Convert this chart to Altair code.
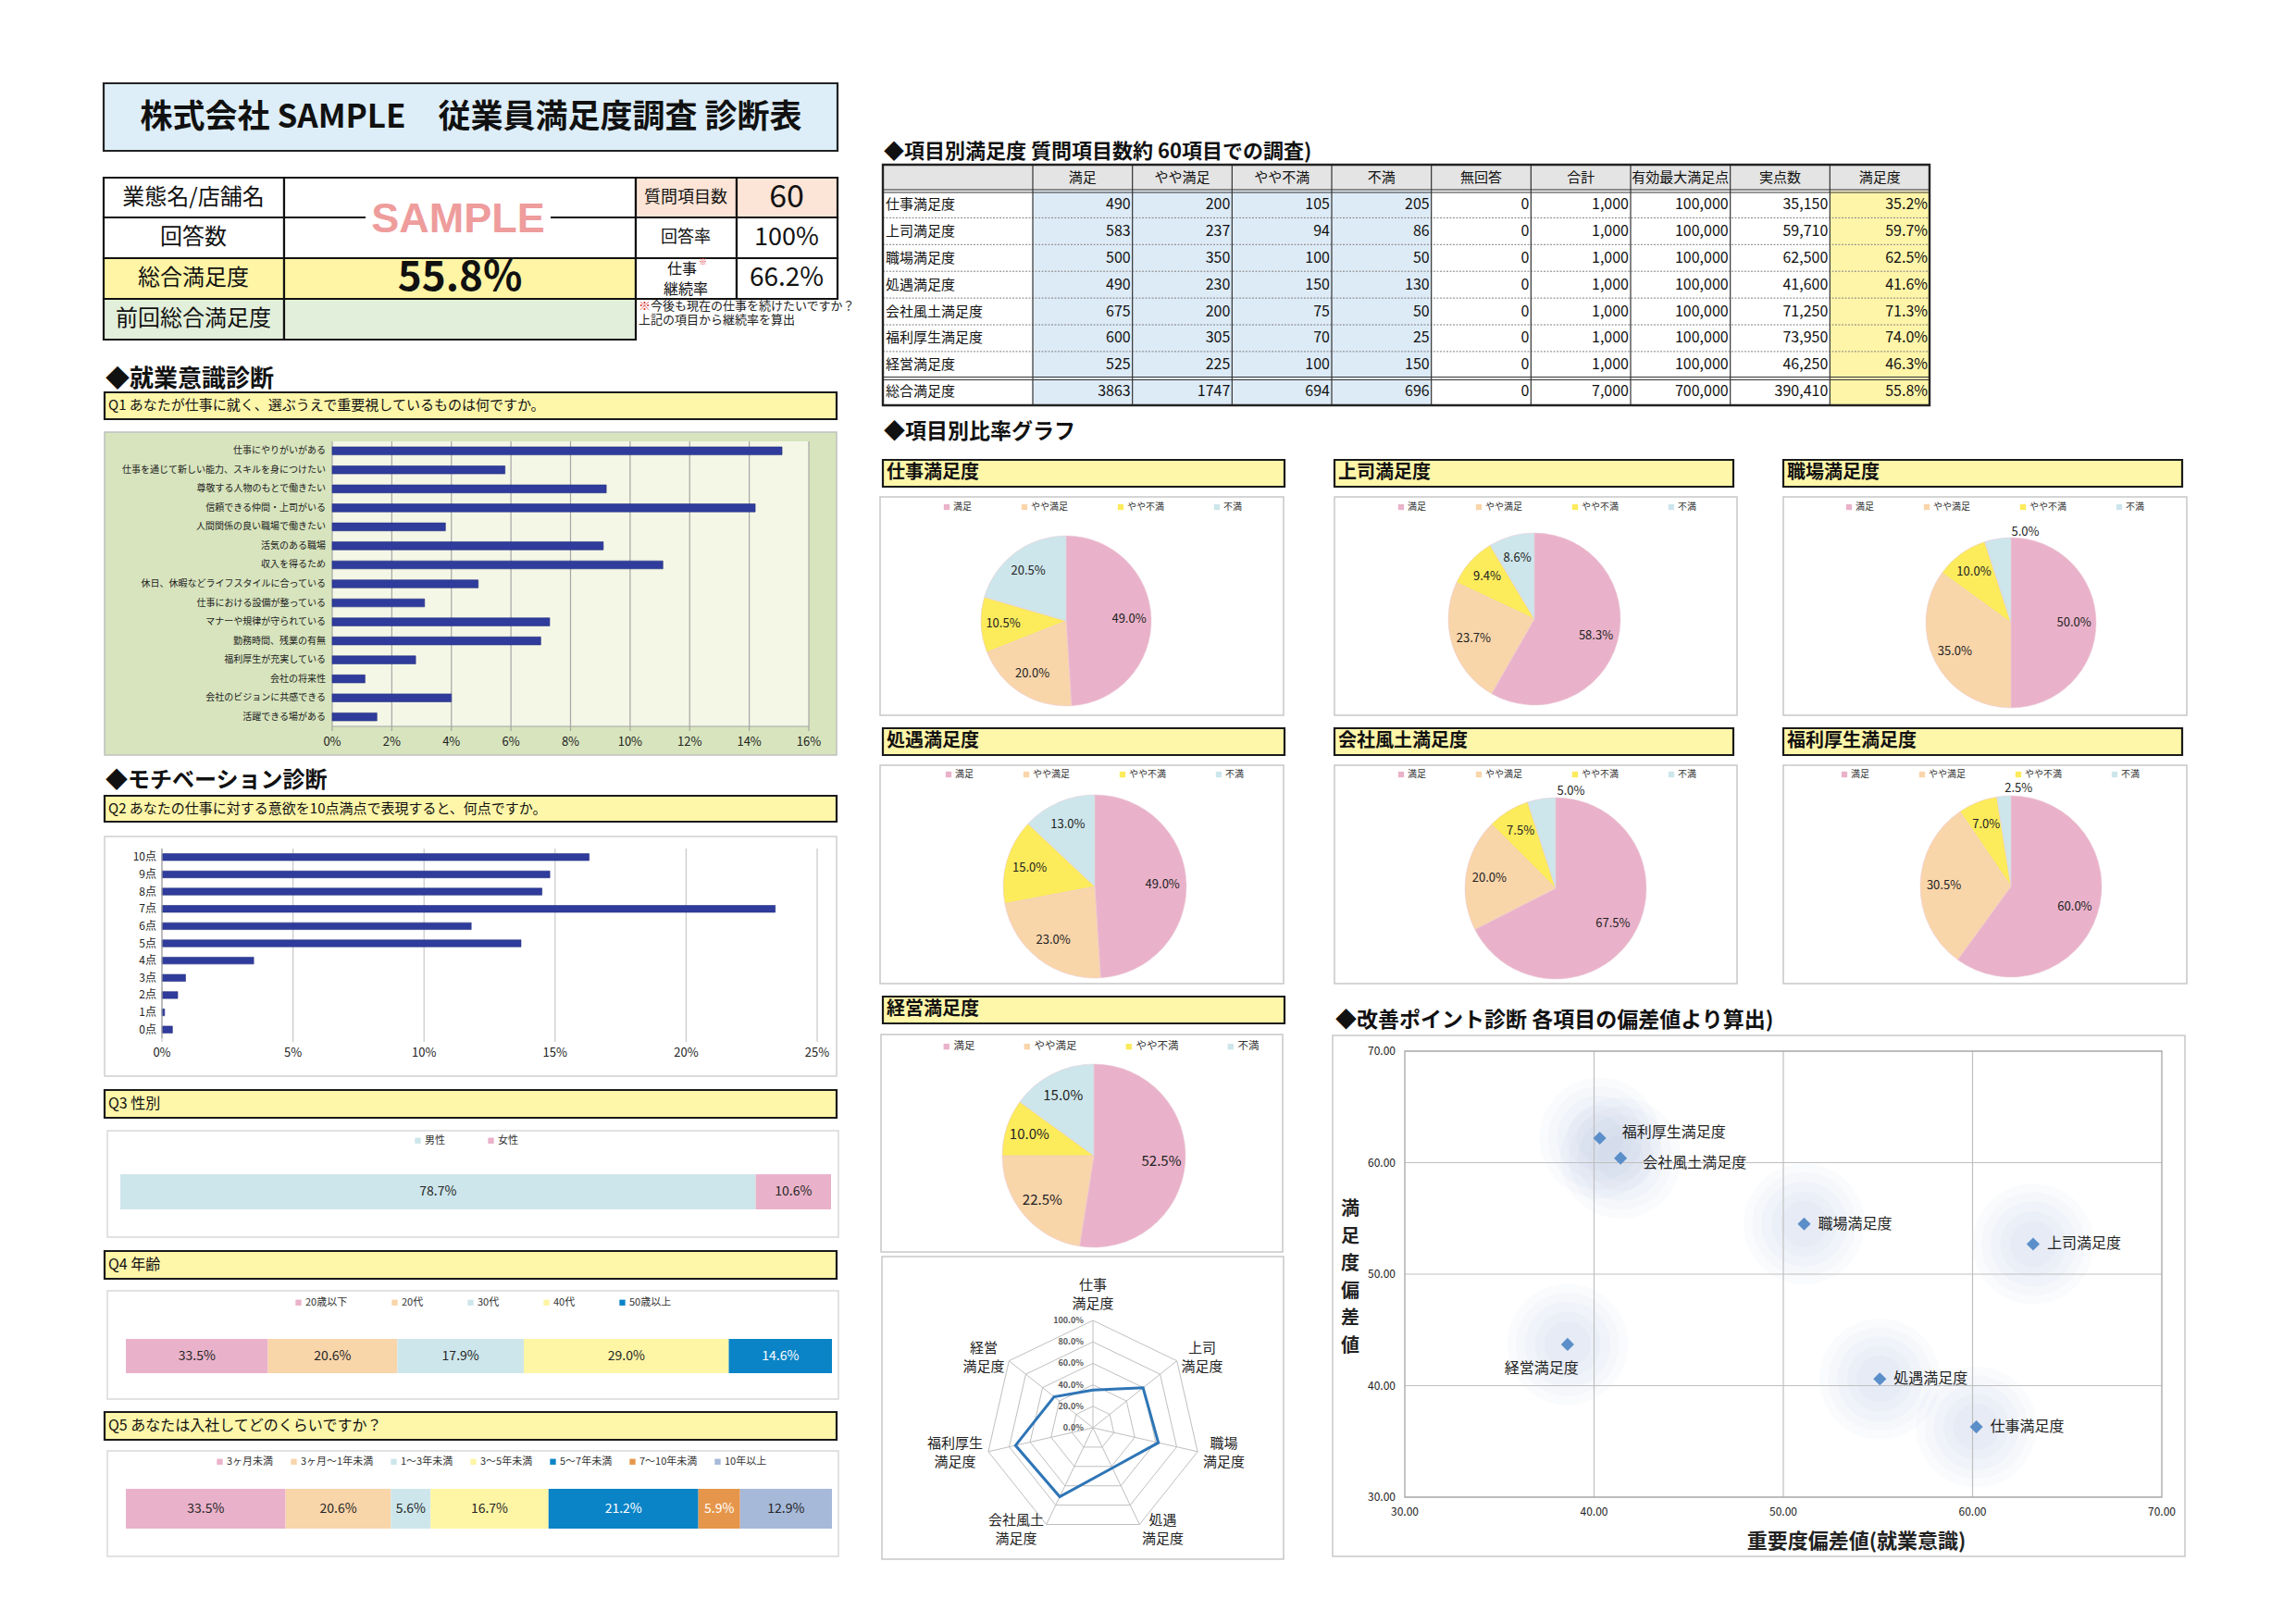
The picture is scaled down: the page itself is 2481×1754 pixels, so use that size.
import math
import altair as alt
import pandas as pd

FONT = "Noto Sans CJK JP"

# ------------------------------------------------------------------ data
q1_items = ["仕事にやりがいがある", "仕事を通じて新しい能力、スキルを身につけたい", "尊敬する人物のもとで働きたい",
            "信頼できる仲間・上司がいる", "人間関係の良い職場で働きたい", "活気のある職場", "収入を得るため",
            "休日、休暇などライフスタイルに合っている", "仕事における設備が整っている", "マナーや規律が守られている",
            "勤務時間、残業の有無", "福利厚生が充実している", "会社の将来性", "会社のビジョンに共感できる", "活躍できる場がある"]
q1_values = [15.1, 5.8, 9.2, 14.2, 3.8, 9.1, 11.1, 4.9, 3.1, 7.3, 7.0, 2.8, 1.1, 4.0, 1.5]
q1_ticks = [0, 2, 4, 6, 8, 10, 12, 14, 16]

q2_points = ["10点", "9点", "8点", "7点", "6点", "5点", "4点", "3点", "2点", "1点", "0点"]
q2_values = [16.3, 14.8, 14.5, 23.4, 11.8, 13.7, 3.5, 0.9, 0.6, 0.1, 0.4]
q2_ticks = [0, 5, 10, 15, 20, 25]

q3_cats = ["男性", "女性"]
q3_values = [89.4, 10.6]
q3_labels = ["78.7%", "10.6%"]

q4_cats = ["20歳以下", "20代", "30代", "40代", "50歳以上"]
q4_values = [20.1, 18.3, 17.9, 29.0, 14.6]
q4_labels = ["33.5%", "20.6%", "17.9%", "29.0%", "14.6%"]

q5_cats = ["3ヶ月未満", "3ヶ月～1年未満", "1～3年未満", "3～5年未満", "5～7年未満", "7～10年未満", "10年以上"]
q5_values = [22.6, 14.9, 5.6, 16.7, 21.2, 5.9, 13.0]
q5_labels = ["33.5%", "20.6%", "5.6%", "16.7%", "21.2%", "5.9%", "12.9%"]

items = ["仕事満足度", "上司満足度", "職場満足度", "処遇満足度", "会社風土満足度", "福利厚生満足度", "経営満足度"]
levels = ["満足", "やや満足", "やや不満", "不満"]
cnt_manzoku = [490, 583, 500, 490, 675, 600, 525]
cnt_yaya_manzoku = [200, 237, 350, 230, 200, 305, 225]
cnt_yaya_fuman = [105, 94, 100, 150, 75, 70, 100]
cnt_fuman = [205, 86, 50, 130, 50, 25, 150]
cnt_mukaito = [0, 0, 0, 0, 0, 0, 0]
cnt_total = [1000, 1000, 1000, 1000, 1000, 1000, 1000]
max_points = [100000, 100000, 100000, 100000, 100000, 100000, 100000]
actual_points = [35150, 59710, 62500, 41600, 71250, 73950, 46250]
satisfaction = [35.2, 59.7, 62.5, 41.6, 71.3, 74.0, 46.3]
overall_label = "総合満足度"
overall_satisfaction = 55.8
table_cols = ["満足", "やや満足", "やや不満", "不満", "無回答", "合計", "有効最大満足点", "実点数", "満足度"]

radar_axis_labels = ["仕事\n満足度", "上司\n満足度", "職場\n満足度", "処遇\n満足度",
                     "会社風土\n満足度", "福利厚生\n満足度", "経営\n満足度"]
radar_ticks = [0, 20, 40, 60, 80, 100]

importance_dev = [60.2, 63.2, 51.1, 55.1, 41.4, 40.3, 38.6]
satisfaction_dev = [36.3, 52.7, 54.5, 40.6, 60.4, 62.2, 43.7]
scatter_ticks = [30, 40, 50, 60, 70]

info_questions = "60"
info_rate = "100%"
info_overall = "55.8%"
info_continue = "66.2%"

# ------------------------------------------------------------------ styles
NAVY = "#2F3C9C"
PINK = "#EAB2CA"
PEACH = "#F9D5AA"
YEL = "#FCEB5B"
LBLUE = "#CDE6EB"
LYEL = "#FEF5A5"
BLUE = "#0A84C7"
ORANGE = "#E6964B"
GBLUE = "#A6B9D9"
BOXYEL = "#FEF6A9"
pie_colors = [PINK, PEACH, YEL, LBLUE]

layers = []


def X(field, scale=None, **kw):
    return alt.X(field, scale=scale, axis=None, **kw)


def Y(field, scale=None, **kw):
    return alt.Y(field, scale=scale, axis=None, **kw)


def boxes(rows, sw=1.0):
    df = pd.DataFrame(rows, columns=["x", "y", "x2", "y2", "fill", "stroke"])
    return alt.Chart(df).mark_rect(strokeWidth=sw).encode(
        x=X("x:Q"), x2="x2:Q", y=Y("y:Q"), y2="y2:Q",
        fill=alt.Fill("fill:N", scale=None), stroke=alt.Stroke("stroke:N", scale=None))


def lines(rows, width=1.0, dash=None):
    df = pd.DataFrame(rows, columns=["x", "y", "x2", "y2", "c"])
    kw = {"strokeWidth": width}
    if dash:
        kw["strokeDash"] = dash
    return alt.Chart(df).mark_rule(**kw).encode(
        x=X("x:Q"), y=Y("y:Q"), x2="x2:Q", y2="y2:Q", color=alt.Color("c:N", scale=None))


def texts(rows, align="left", weight="normal", font=FONT, baseline="middle", line_height=None):
    df = pd.DataFrame(rows, columns=["x", "y", "t", "s", "c"])
    kw = dict(align=align, baseline=baseline, fontWeight=weight, font=font, lineBreak="\n")
    if line_height:
        kw["lineHeight"] = line_height
    return alt.Chart(df).mark_text(**kw).encode(
        x=X("x:Q"), y=Y("y:Q"), text="t:N",
        size=alt.Size("s:Q", scale=None), color=alt.Color("c:N", scale=None))


def legend(lx, ly, pad, fs):
    return alt.Legend(orient="none", legendX=lx, legendY=ly, direction="horizontal", title=None,
                      symbolType="square", symbolSize=40, symbolStrokeWidth=0, labelFontSize=fs,
                      labelFont=FONT, columnPadding=pad, labelOffset=2, padding=0, labelColor="#333333")


# ------------------------------------------------------------------ frames / boxes
frame_rows = [
    (112, 90, 905, 163, "#DDEEF8", "#222222"),
    (113, 424, 904, 453, BOXYEL, "#1A1A1A"),
    (113, 860, 904, 888, BOXYEL, "#1A1A1A"),
    (113, 1178, 904, 1208, BOXYEL, "#1A1A1A"),
    (113, 1352, 904, 1382, BOXYEL, "#1A1A1A"),
    (113, 1526, 904, 1556, BOXYEL, "#1A1A1A"),
    (954, 497, 1388, 526, BOXYEL, "#1A1A1A"),
    (1442, 497, 1873, 526, BOXYEL, "#1A1A1A"),
    (1927, 497, 2358, 526, BOXYEL, "#1A1A1A"),
    (954, 787, 1388, 816, BOXYEL, "#1A1A1A"),
    (1442, 787, 1873, 816, BOXYEL, "#1A1A1A"),
    (1927, 787, 2358, 816, BOXYEL, "#1A1A1A"),
    (954, 1077, 1388, 1106, BOXYEL, "#1A1A1A"),
]
layers.append(boxes(frame_rows, sw=2.2))

panel_rows = [
    (113, 467, 904, 816, "#D7E4BD", "#C0C0C0"),
    (359, 477, 874, 785, "#F4F7E6", "transparent"),
    (113, 904, 904, 1163, "white", "#D0D0D0"),
    (116, 1222, 906, 1337, "white", "#D9D9D9"),
    (116, 1395, 906, 1512, "white", "#D9D9D9"),
    (116, 1568, 906, 1682, "white", "#D9D9D9"),
    (951, 537, 1387, 773, "white", "#C8C8C8"),
    (1442, 537, 1877, 773, "white", "#C8C8C8"),
    (1927, 537, 2363, 773, "white", "#C8C8C8"),
    (951, 827, 1387, 1063, "white", "#C8C8C8"),
    (1442, 827, 1877, 1063, "white", "#C8C8C8"),
    (1927, 827, 2363, 1063, "white", "#C8C8C8"),
    (952, 1118, 1386, 1353, "white", "#C8C8C8"),
    (953, 1358, 1387, 1685, "white", "#C8C8C8"),
    (1440, 1119, 2361, 1682, "white", "#C8C8C8"),
]
layers.append(boxes(panel_rows, sw=1.5))

# info table
PEACHCELL = "#FCE4D6"
YCELL = "#FFF5A5"
GCELL = "#E2EFDA"
info_rows = [
    (112, 192, 307, 235, "white", "#111"), (307, 192, 687, 235, "white", "#111"),
    (687, 192, 796, 235, PEACHCELL, "#111"), (796, 192, 905, 235, PEACHCELL, "#111"),
    (112, 235, 307, 279, "white", "#111"), (307, 235, 687, 279, "white", "#111"),
    (687, 235, 796, 279, "white", "#111"), (796, 235, 905, 279, "white", "#111"),
    (112, 279, 307, 323, YCELL, "#111"), (307, 279, 687, 323, YCELL, "#111"),
    (687, 279, 796, 323, "white", "#111"), (796, 279, 905, 323, "white", "#111"),
    (112, 323, 307, 367, GCELL, "#111"), (307, 323, 687, 367, GCELL, "#111"),
]
layers.append(boxes(info_rows, sw=2.2))
layers.append(boxes([(395, 222, 595, 250, "white", "transparent")], sw=0))

# ------------------------------------------------------------------ header texts
layers.append(texts([(509, 127, "株式会社 SAMPLE　従業員満足度調査 診断表", 35, "#111")], align="center", weight="bold"))
layers.append(texts([
    (209, 214, "業態名/店舗名", 24, "#111"), (209, 257, "回答数", 24, "#111"),
    (209, 301, "総合満足度", 24, "#111"), (209, 345, "前回総合満足度", 24, "#111"),
    (741, 214, "質問項目数", 18, "#111"), (741, 257, "回答率", 18, "#111"),
    (737, 291, "仕事", 16, "#111"), (741, 313, "継続率", 16, "#111"),
    (850, 214, info_questions, 34, "#111"), (850, 257, info_rate, 27, "#111"),
    (850, 301, info_continue, 28, "#111"),
], align="center"))
layers.append(texts([(497, 301, info_overall, 44, "#111")], align="center", weight="bold"))
layers.append(texts([(495, 237, "SAMPLE", 45, "#EE9C9C")], align="center", weight="bold", font="Liberation Sans"))
layers.append(texts([(755, 283, "※", 9, "#E03030"), (690, 331, "※", 13, "#E03030")]))
layers.append(texts([(703, 331, "今後も現在の仕事を続けたいですか？", 13, "#222"),
                     (690, 346, "上記の項目から継続率を算出", 13, "#222")]))

layers.append(texts([
    (114, 410, "◆就業意識診断", 26, "#111"),
    (114, 844, "◆モチベーション診断", 24, "#111"),
    (955, 164, "◆項目別満足度  質問項目数約 60項目での調査)", 22, "#111"),
    (955, 467, "◆項目別比率グラフ", 23, "#111"),
    (1443, 1103, "◆改善ポイント診断  各項目の偏差値より算出)", 23, "#111"),
    (958, 511, "仕事満足度", 20, "#111"), (1446, 511, "上司満足度", 20, "#111"),
    (1931, 511, "職場満足度", 20, "#111"), (958, 801, "処遇満足度", 20, "#111"),
    (1446, 801, "会社風土満足度", 20, "#111"), (1931, 801, "福利厚生満足度", 20, "#111"),
    (958, 1091, "経営満足度", 20, "#111"),
], weight="bold"))
layers.append(texts([
    (117, 438, "Q1 あなたが仕事に就く、選ぶうえで重要視しているものは何ですか。", 15, "#111"),
    (117, 874, "Q2 あなたの仕事に対する意欲を10点満点で表現すると、何点ですか。", 15, "#111"),
    (117, 1193, "Q3 性別", 16, "#111"),
    (117, 1367, "Q4 年齢", 16, "#111"),
    (117, 1541, "Q5 あなたは入社してどのくらいですか？", 16, "#111"),
]))

# ------------------------------------------------------------------ Q1 bar chart
Q1X = alt.Scale(domain=[0, 16], range=[359, 874], nice=False)
Q1Y = alt.Scale(domain=q1_items, range=[477, 785], paddingInner=0.58, paddingOuter=0.29)
q1_df = pd.DataFrame({"item": q1_items, "v": q1_values})
q1_tick_df = pd.DataFrame({"t": q1_ticks, "lab": [f"{t}%" for t in q1_ticks]})
q1 = alt.layer(
    alt.Chart(q1_tick_df).mark_rule(color="#A6A6A6", strokeWidth=1.2).encode(
        x=X("t:Q", Q1X), y=alt.value(477), y2=alt.value(790)),
    alt.Chart(q1_df).mark_bar(color=NAVY, stroke="#27337F", strokeWidth=0.6).encode(
        x=X("v:Q", Q1X), y=Y("item:N", Q1Y)),
    alt.Chart(q1_df).mark_text(align="right", font=FONT, fontSize=10, color="#222").encode(
        x=alt.value(352), y=Y("item:N", Q1Y), text="item:N"),
    alt.Chart(q1_tick_df).mark_text(align="center", font=FONT, fontSize=13, color="#222").encode(
        x=X("t:Q", Q1X), y=alt.value(802), text="lab:N"),
)
layers.append(q1)
layers.append(lines([(359, 785, 874, 785, "#A6A6A6")], width=1.2))

# ------------------------------------------------------------------ Q2 bar chart
Q2X = alt.Scale(domain=[0, 25], range=[175, 883], nice=False)
Q2Y = alt.Scale(domain=q2_points, range=[917, 1122], paddingInner=0.6, paddingOuter=0.3)
q2_df = pd.DataFrame({"p": q2_points, "v": q2_values})
q2_tick_df = pd.DataFrame({"t": q2_ticks, "lab": [f"{t}%" for t in q2_ticks]})
q2 = alt.layer(
    alt.Chart(q2_tick_df).mark_rule(color="#C8C8C8", strokeWidth=1.2).encode(
        x=X("t:Q", Q2X), y=alt.value(917), y2=alt.value(1126)),
    alt.Chart(q2_df).mark_bar(color=NAVY, stroke="#27337F", strokeWidth=0.6).encode(
        x=X("v:Q", Q2X), y=Y("p:N", Q2Y)),
    alt.Chart(q2_df).mark_text(align="right", font=FONT, fontSize=12, color="#222").encode(
        x=alt.value(169), y=Y("p:N", Q2Y), text="p:N"),
    alt.Chart(q2_tick_df).mark_text(align="center", font=FONT, fontSize=13, color="#222").encode(
        x=X("t:Q", Q2X), y=alt.value(1138), text="lab:N"),
)
layers.append(q2)
layers.append(lines([(175, 917, 175, 1122, "#A6A6A6")], width=1.2))


# ------------------------------------------------------------------ 100% stacked bars
def hbar100(cats, values, labels, colors, label_colors, x0, x1, y0, y1, lx, ly, pad):
    df = pd.DataFrame({"cat": cats, "v": values, "lab": labels, "idx": list(range(len(cats))),
                       "tc": label_colors})
    xs = alt.Scale(domain=[0, 1], range=[x0, x1], nice=False, zero=False)
    base = alt.Chart(df).transform_stack(
        stack="v", groupby=[], as_=["s0", "s1"], offset="normalize",
        sort=[alt.SortField(field="idx", order="ascending")]
    ).transform_calculate(mid="(datum.s0 + datum.s1) / 2")
    bars = base.mark_rect().encode(
        x=X("s0:Q", xs), x2="s1:Q", y=alt.value(y0), y2=alt.value(y1),
        color=alt.Color("cat:N", scale=alt.Scale(domain=cats, range=colors), legend=legend(lx, ly, pad, 11)))
    txt = base.mark_text(font=FONT, fontSize=14).encode(
        x=X("mid:Q", xs), y=alt.value((y0 + y1) / 2), text="lab:N",
        color=alt.Color("tc:N", scale=None))
    return alt.layer(bars, txt)


D = "#262626"
layers.append(hbar100(q3_cats, q3_values, q3_labels, [LBLUE, PINK], [D, D],
                      130, 898, 1269, 1307, 446, 1227, 44))
layers.append(hbar100(q4_cats, q4_values, q4_labels, [PINK, PEACH, LBLUE, LYEL, BLUE],
                      [D, D, D, D, "white"], 136, 899, 1447, 1484, 317, 1402, 45))
layers.append(hbar100(q5_cats, q5_values, q5_labels, [PINK, PEACH, LBLUE, LYEL, BLUE, ORANGE, GBLUE],
                      [D, D, D, D, "white", "white", D], 136, 899, 1609, 1652, 232, 1574, 16))

# ------------------------------------------------------------------ table
T_X0, T_X1 = 1116, 2085
T_Y0, T_Y1 = 206.5, 437.7
TX = alt.Scale(domain=table_cols, range=[T_X0, T_X1], paddingInner=0, paddingOuter=0)
row_names = items + [overall_label]
TY = alt.Scale(domain=row_names, range=[T_Y0, T_Y1], paddingInner=0, paddingOuter=0)
TXI = alt.Scale(domain=[0, len(table_cols)], range=[T_X0, T_X1], nice=False, zero=False)
TYI = alt.Scale(domain=[0, len(row_names)], range=[T_Y0, T_Y1], nice=False, zero=False)
col_step = (T_X1 - T_X0) / len(table_cols)


def fmt_int(v):
    return f"{v:,}"


col_values = [cnt_manzoku, cnt_yaya_manzoku, cnt_yaya_fuman, cnt_fuman, cnt_mukaito,
              cnt_total, max_points, actual_points]
recs = []
for ri, rn in enumerate(items):
    for ci, cn in enumerate(table_cols):
        if ci < 5:
            t = str(col_values[ci][ri])
        elif ci < 8:
            t = fmt_int(col_values[ci][ri])
        else:
            t = f"{satisfaction[ri]:.1f}%"
        recs.append((rn, cn, t))
for ci, cn in enumerate(table_cols):
    if ci < 5:
        t = str(sum(col_values[ci]))
    elif ci < 8:
        t = fmt_int(sum(col_values[ci]))
    else:
        t = f"{overall_satisfaction:.1f}%"
    recs.append((overall_label, cn, t))
tab_df = pd.DataFrame(recs, columns=["row", "col", "t"])
fill_map = {c: ("#DDEBF7" if i < 4 else ("#FFF5A8" if i == 8 else "white")) for i, c in enumerate(table_cols)}
tab_df["fill"] = tab_df["col"].map(fill_map)

layers.append(boxes([(954, 178, 2085, 206.5, "#E4E4E4", "transparent")], sw=0))
layers.append(alt.Chart(tab_df).mark_rect().encode(
    x=X("col:N", TX), y=Y("row:N", TY), fill=alt.Fill("fill:N", scale=None)))
sep_df = pd.DataFrame({"k": list(range(1, len(items)))})
layers.append(alt.Chart(sep_df).mark_rule(color="#7F7F7F", strokeDash=[2, 1.5], strokeWidth=1).encode(
    y=Y("k:Q", TYI), x=alt.value(954), x2=alt.value(2085)))
vcol_df = pd.DataFrame({"k": list(range(len(table_cols)))})
layers.append(alt.Chart(vcol_df).mark_rule(color="#333333", strokeWidth=1.2).encode(
    x=X("k:Q", TXI), y=alt.value(178), y2=alt.value(438)))
layers.append(lines([(954, 205, 2085, 205, "#333"), (954, 208, 2085, 208, "#333"),
                     (954, 407.5, 2085, 407.5, "#333"), (954, 410.5, 2085, 410.5, "#333")], width=1.2))
layers.append(boxes([(954, 178, 2085, 438, "transparent", "#222")], sw=2.4))
layers.append(alt.Chart(tab_df).mark_text(align="right", font=FONT, fontSize=16, color="#111",
                                          dx=col_step / 2 - 2).encode(
    x=X("col:N", TX), y=Y("row:N", TY), text="t:N"))
layers.append(alt.Chart(pd.DataFrame({"row": row_names})).mark_text(
    align="left", font=FONT, fontSize=15, color="#111").encode(
    x=alt.value(957), y=Y("row:N", TY), text="row:N"))
layers.append(alt.Chart(pd.DataFrame({"col": table_cols})).mark_text(
    align="center", font=FONT, fontSize=15, color="#111").encode(
    x=X("col:N", TX), y=alt.value(192), text="col:N"))


# ------------------------------------------------------------------ pies
def pie(counts, cx, cy, r, lx, ly, lab_fs, leg_fs, leg_pad):
    tot = sum(counts)
    df = pd.DataFrame({"cat": levels, "n": counts, "idx": [0, 1, 2, 3]})
    df["lab"] = [f"{c / tot * 100:.1f}%" for c in counts]
    df["rr"] = [r * (1.08 if c / tot < 0.06 else 0.74) for c in counts]
    th = alt.Theta("n:Q", stack=True)
    arcs = alt.Chart(df).mark_arc(outerRadius=r, stroke="#E8C8D4", strokeWidth=0.5).encode(
        theta=th, order=alt.Order("idx:Q"),
        color=alt.Color("cat:N", scale=alt.Scale(domain=levels, range=pie_colors),
                        legend=legend(lx, ly, leg_pad, leg_fs)),
        x=alt.value(cx), y=alt.value(cy))
    txt = alt.Chart(df).mark_text(font=FONT, fontSize=lab_fs, color="#222").encode(
        theta=th, order=alt.Order("idx:Q"), detail="cat:N",
        radius=alt.Radius("rr:Q", scale=None), text="lab:N",
        x=alt.value(cx), y=alt.value(cy))
    return alt.layer(arcs, txt)


pie_counts = list(zip(cnt_manzoku, cnt_yaya_manzoku, cnt_yaya_fuman, cnt_fuman))
pie_layout = [
    (1152, 671, 92, 1018, 543, 13, 10, 52), (1658, 669, 93, 1509, 543, 13, 10, 52),
    (2173, 673, 92, 1993, 543, 13, 10, 52),
    (1183, 958, 99, 1020, 832, 13, 10, 52), (1681, 960, 98, 1509, 832, 13, 10, 52),
    (2173, 958, 98, 1988, 832, 13, 10, 52),
    (1182, 1249, 99, 1017, 1125, 15, 11.5, 50),
]
for cnts, lay in zip(pie_counts, pie_layout):
    layers.append(pie(list(cnts), *lay))

# ------------------------------------------------------------------ radar
RCX, RCY, RR = 1181, 1543, 116
PXU = RR / 100.0  # pixels per data unit
RX = alt.Scale(domain=[-100, 100], range=[RCX - RR, RCX + RR], nice=False, zero=False)
RY = alt.Scale(domain=[-100, 100], range=[RCY - RR, RCY + RR], nice=False, zero=False)
NAX = len(items)
ang = f"datum.i * 2 * PI / {NAX}"
grid_df = pd.DataFrame([(lv, i) for lv in radar_ticks[1:] for i in range(NAX + 1)], columns=["lv", "i"])
radar_grid = alt.Chart(grid_df).transform_calculate(
    px=f"datum.lv * sin({ang})", py=f"-datum.lv * cos({ang})"
).mark_line(color="#BFBFBF", strokeWidth=1).encode(
    x=X("px:Q", RX), y=Y("py:Q", RY), detail="lv:N", order="i:Q")
spoke_df = pd.DataFrame({"i": list(range(NAX))})
radar_spokes = alt.Chart(spoke_df).transform_calculate(
    px=f"100 * sin({ang})", py=f"-100 * cos({ang})", z="0"
).mark_rule(color="#BFBFBF", strokeWidth=1).encode(
    x=X("z:Q", RX), y=Y("z:Q", RY), x2="px:Q", y2="py:Q")
line_df = pd.DataFrame({"i": list(range(NAX + 1)), "v": satisfaction + [satisfaction[0]]})
radar_line = alt.Chart(line_df).transform_calculate(
    px=f"datum.v * sin({ang})", py=f"-datum.v * cos({ang})"
).mark_line(color="#2E75B6", strokeWidth=3).encode(
    x=X("px:Q", RX), y=Y("py:Q", RY), order="i:Q")
rt_df = pd.DataFrame({"lv": radar_ticks, "lab": [f"{t:.1f}%" for t in radar_ticks]})
radar_tick_txt = alt.Chart(rt_df).transform_calculate(py="-datum.lv").mark_text(
    align="right", font=FONT, fontSize=9, fontWeight="bold", color="#595959").encode(
    x=alt.value(RCX - 10), y=Y("py:Q", RY), text="lab:N")
ral_df = pd.DataFrame({"i": list(range(NAX)), "lab": radar_axis_labels})
ral_df["w"] = [max(len(s) for s in lab.split("\n")) for lab in radar_axis_labels]
LAB_FS, LAB_LH = 15, 20
radar_ax_txt = alt.Chart(ral_df).transform_calculate(
    s=f"sin({ang})", c=f"cos({ang})"
).transform_calculate(
    px=f"(122 * datum.s + (abs(datum.s) > 0.1 ? (datum.s > 0 ? 1 : -1) * datum.w * {LAB_FS / 2} : 0)) / {PXU}",
    py=f"(-122 * datum.c + (abs(datum.s) < 0.1 ? -22 : 0) - {LAB_LH / 2}) / {PXU}"
).mark_text(align="center", baseline="middle", font=FONT, fontSize=LAB_FS, color="#222",
            lineBreak="\n", lineHeight=LAB_LH).encode(
    x=X("px:Q", RX), y=Y("py:Q", RY), text="lab:N")
layers.append(alt.layer(radar_grid, radar_spokes, radar_line, radar_tick_txt, radar_ax_txt))

# ------------------------------------------------------------------ scatter
SX = alt.Scale(domain=[30, 70], range=[1518, 2336], nice=False, zero=False)
SY = alt.Scale(domain=[30, 70], range=[1618, 1136], nice=False, zero=False)
sc_df = pd.DataFrame({"item": items, "imp": importance_dev, "sat": satisfaction_dev})
sc_df["grp"] = ["r", "r", "r", "r", "rl", "ru", "b"]
st_df = pd.DataFrame({"t": scatter_ticks, "lab": [f"{t:.2f}" for t in scatter_ticks]})
inner_ticks = st_df[(st_df.t > 30) & (st_df.t < 70)]
halo = [alt.Chart(sc_df).mark_circle(color="#A9BFDE", opacity=0.055).encode(
    x=X("imp:Q", SX), y=Y("sat:Q", SY), size=alt.value(s)) for s in (17000, 12500, 8500, 5000, 2500)]


def sc_labels(grp, align, dx, dy):
    return alt.Chart(sc_df).transform_filter(f"datum.grp == '{grp}'").mark_text(
        align=align, dx=dx, dy=dy, font=FONT, fontSize=16, color="#222").encode(
        x=X("imp:Q", SX), y=Y("sat:Q", SY), text="item:N")


scatter = alt.layer(
    *halo,
    alt.Chart(inner_ticks).mark_rule(color="#BFBFBF", strokeWidth=1.2).encode(
        x=X("t:Q", SX), y=alt.value(1136), y2=alt.value(1618)),
    alt.Chart(inner_ticks).mark_rule(color="#BFBFBF", strokeWidth=1.2).encode(
        y=Y("t:Q", SY), x=alt.value(1518), x2=alt.value(2336)),
    alt.Chart(sc_df).mark_point(shape="diamond", filled=True, color="#5B8FC9", opacity=1, size=200).encode(
        x=X("imp:Q", SX), y=Y("sat:Q", SY)),
    sc_labels("r", "left", 15, 0),
    sc_labels("rl", "left", 24, 5),
    sc_labels("ru", "left", 24, -6),
    sc_labels("b", "center", -28, 26),
    alt.Chart(st_df).mark_text(align="right", font=FONT, fontSize=12, color="#222").encode(
        x=alt.value(1508), y=Y("t:Q", SY), text="lab:N"),
    alt.Chart(st_df).mark_text(align="center", font=FONT, fontSize=12, color="#222").encode(
        x=X("t:Q", SX), y=alt.value(1634), text="lab:N"),
)
layers.append(scatter)
layers.append(boxes([(1518, 1136, 2336, 1618, "transparent", "#A6A6A6")], sw=1.3))
layers.append(texts([(1459, 1297, "満\n足\n度\n偏\n差\n値", 20, "#222")], align="center", weight="bold",
                    baseline="top", line_height=29.5))
layers.append(texts([(2006, 1666, "重要度偏差値(就業意識)", 22, "#222")], align="center", weight="bold"))

# ------------------------------------------------------------------ compose
chart = alt.layer(*layers).resolve_scale(
    x="independent", y="independent", color="independent", theta="independent",
    radius="independent", size="independent", fill="independent", stroke="independent"
).properties(
    width=2481, height=1754, padding=0, autosize=alt.AutoSizeParams(type="none"), background="white"
).configure(font=FONT).configure_view(stroke=None)

chart.save("out.html", embed_options={"renderer": "svg", "actions": False})
